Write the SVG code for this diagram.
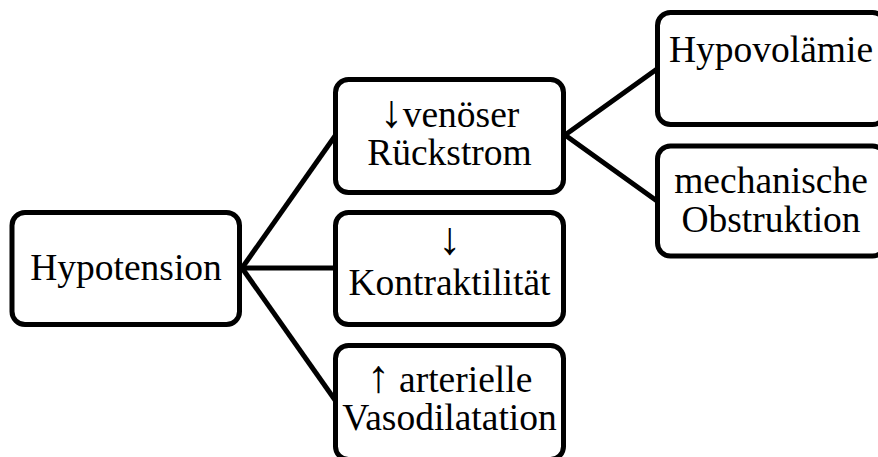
<svg xmlns="http://www.w3.org/2000/svg" width="878" height="457" viewBox="0 0 878 457">
<style>
.box{fill:#fff;stroke:#000;stroke-width:5}
.t{font-family:"Liberation Serif","DejaVu Serif",serif;font-size:37.5px;fill:#000;text-anchor:middle}
.ar{font-size:46px}
.c{stroke:#000;stroke-width:5;fill:none;stroke-linecap:round}
</style>
<rect width="878" height="457" fill="#fff"/>
<g id="connectors">
<line class="c" x1="242" y1="268" x2="335" y2="136"/>
<line class="c" x1="242" y1="268" x2="335" y2="268"/>
<line class="c" x1="242" y1="268" x2="335" y2="400"/>
<line class="c" x1="565" y1="135" x2="657" y2="69"/>
<line class="c" x1="565" y1="135" x2="657" y2="201"/>
</g>
<g id="hypotension">
<rect class="box" x="12" y="212.5" width="227.5" height="112" rx="13"/>
<text class="t" x="126" y="280">Hypotension</text>
</g>
<g id="rueckstrom">
<rect class="box" x="335.5" y="79.5" width="228" height="113" rx="13"/>
<text class="t" x="449.5" y="127"><tspan class="ar">↓</tspan>venöser</text>
<text class="t" x="449.5" y="165">Rückstrom</text>
</g>
<g id="kontraktilitaet">
<rect class="box" x="335.5" y="212.5" width="228" height="112" rx="13"/>
<text class="t" x="449.5" y="254"><tspan class="ar">↓</tspan></text>
<text class="t" x="449.5" y="295">Kontraktilität</text>
</g>
<g id="vasodilatation">
<rect class="box" x="335.5" y="345.5" width="228" height="114" rx="13"/>
<text class="t" x="449.5" y="392"><tspan class="ar">↑</tspan> arterielle</text>
<text class="t" x="449.5" y="430">Vasodilatation</text>
</g>
<g id="hypovolaemie">
<rect class="box" x="657.5" y="12.5" width="228" height="112" rx="13"/>
<text class="t" x="771" y="62">Hypovolämie</text>
</g>
<g id="obstruktion">
<rect class="box" x="657.5" y="146" width="228" height="110" rx="13"/>
<text class="t" x="771" y="193">mechanische</text>
<text class="t" x="771" y="232">Obstruktion</text>
</g>
</svg>
